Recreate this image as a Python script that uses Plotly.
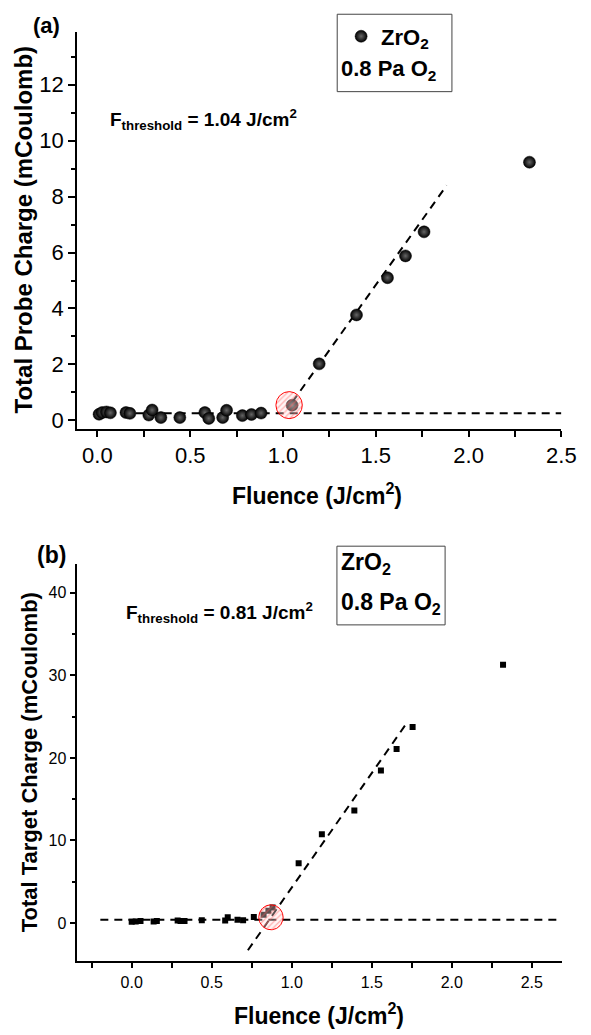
import numpy as np
import plotly.graph_objects as go

# ---------------- data: panel (a) ----------------
fluence_a = [0.009, 0.026, 0.049, 0.070, 0.154, 0.175, 0.277, 0.295, 0.342, 0.444,
             0.579, 0.600, 0.675, 0.696, 0.781, 0.830, 0.882, 1.049, 1.195, 1.396,
             1.563, 1.660, 1.760, 2.328]
probe_charge = [0.22, 0.28, 0.30, 0.27, 0.28, 0.25, 0.19, 0.37, 0.10, 0.10,
                0.28, 0.07, 0.10, 0.36, 0.17, 0.21, 0.26, 0.54, 2.02, 3.77,
                5.10, 5.88, 6.74, 9.23]
fit_a_x = [1.05, 1.882]
fit_a_y = [0.65, 8.40]
base_a_x = [-0.02, 2.5]
base_a_y = [0.25, 0.25]
circle_a_center = (1.033, 0.545)

# ---------------- data: panel (b) ----------------
fluence_b = [0.000, 0.025, 0.055, 0.137, 0.157, 0.287, 0.305, 0.330, 0.438, 0.584,
             0.600, 0.661, 0.696, 0.763, 0.824, 0.854, 0.880, 1.043, 1.188, 1.391,
             1.557, 1.655, 1.755, 2.320]
target_charge = [0.15, 0.20, 0.25, 0.20, 0.25, 0.30, 0.25, 0.25, 0.35, 0.30,
                 0.70, 0.40, 0.35, 0.75, 1.00, 1.50, 1.90, 7.24, 10.74, 13.63,
                 18.46, 21.07, 23.73, 31.29]
fit_b_x = [0.726, 1.708]
fit_b_y = [-3.29, 23.93]
base_b_x = [-0.196, 2.69]
base_b_y = [0.41, 0.41]
circle_b_center = (0.87, 0.70)

# ---------------- layout geometry ----------------
W, H = 591, 1035
FONT = "Liberation Sans, Arial, sans-serif"


def px(x):
    return x / W


def py(y):
    return 1 - y / H


xa_range, ya_range = [-0.11, 2.5], [-0.31, 13.9]
xb_range, yb_range = [-0.34, 2.69], [-4.54, 43.5]
xa_dom_px, ya_dom_px = (79, 576), (31.7, 430.7)
xb_dom_px, yb_dom_px = (79.3, 576.9), (566, 964.3)


def ellipse(center, r_px, xr, yr, xd, yd):
    sx = (xd[1] - xd[0]) / (xr[1] - xr[0])
    sy = (yd[1] - yd[0]) / (yr[1] - yr[0])
    t = np.linspace(0, 2 * np.pi, 80)
    return center[0] + r_px / sx * np.cos(t), center[1] + r_px / sy * np.sin(t)


fig = go.Figure()

dash_line = dict(color="black", width=2, dash="8px,6px")
hatch = dict(shape="/", fgcolor="rgba(255,90,90,0.9)", bgcolor="rgba(255,225,225,0.35)",
             size=4, solidity=0.3)

# panel (a)
fig.add_trace(go.Scatter(x=base_a_x, y=base_a_y, mode="lines", line=dash_line,
                         showlegend=False, xaxis="x", yaxis="y"))
fig.add_trace(go.Scatter(x=fit_a_x, y=fit_a_y, mode="lines", line=dash_line,
                         showlegend=False, xaxis="x", yaxis="y"))
fig.add_trace(go.Scatter(x=fluence_a, y=probe_charge, mode="markers",
                         name="<b>ZrO<sub>2</sub></b>",
                         marker=dict(symbol="circle", size=12, color="#000000",
                                     gradient=dict(type="radial", color="#666666"),
                                     line=dict(width=0.5, color="black")),
                         showlegend=True, xaxis="x", yaxis="y"))
cx, cy = ellipse(circle_a_center, 13.5, xa_range, ya_range, xa_dom_px, ya_dom_px)
fig.add_trace(go.Scatter(x=cx, y=cy, mode="lines", fill="toself",
                         line=dict(color="red", width=1),
                         fillcolor="rgba(0,0,0,0)", fillpattern=hatch,
                         showlegend=False, xaxis="x", yaxis="y"))

# panel (b)
fig.add_trace(go.Scatter(x=base_b_x, y=base_b_y, mode="lines", line=dash_line,
                         showlegend=False, xaxis="x2", yaxis="y2"))
fig.add_trace(go.Scatter(x=fit_b_x, y=fit_b_y, mode="lines", line=dash_line,
                         showlegend=False, xaxis="x2", yaxis="y2"))
fig.add_trace(go.Scatter(x=fluence_b, y=target_charge, mode="markers",
                         marker=dict(symbol="square", size=6, color="black", line=dict(width=0)),
                         showlegend=False, xaxis="x2", yaxis="y2"))
cx, cy = ellipse(circle_b_center, 12.5, xb_range, yb_range, xb_dom_px, yb_dom_px)
fig.add_trace(go.Scatter(x=cx, y=cy, mode="lines", fill="toself",
                         line=dict(color="red", width=1),
                         fillcolor="rgba(0,0,0,0)", fillpattern=hatch,
                         showlegend=False, xaxis="x2", yaxis="y2"))

axis_common = dict(showline=True, linecolor="black", linewidth=1.5, mirror=False,
                   ticks="outside", tickcolor="black", tickwidth=1.5,
                   showgrid=False, zeroline=False, ticklabeloverflow="allow")

fig.update_layout(
    width=W, height=H,
    margin=dict(l=0, r=0, t=0, b=0),
    paper_bgcolor="white", plot_bgcolor="white",
    font=dict(family=FONT, color="black"),
    xaxis=dict(domain=[px(xa_dom_px[0]), px(xa_dom_px[1])], range=xa_range, anchor="y",
               dtick=0.5, tick0=0, tickformat=".1f", ticklen=6,
               tickfont=dict(size=22, family=FONT, color="black"),
               minor=dict(dtick=0.25, tick0=0, ticks="outside", ticklen=6, tickwidth=1.5, tickcolor="black"),
               **axis_common),
    yaxis=dict(domain=[py(ya_dom_px[1]), py(ya_dom_px[0])], range=ya_range, anchor="x",
               dtick=2, tick0=0, ticklen=7,
               tickfont=dict(size=22, family=FONT, color="black"),
               minor=dict(dtick=1, tick0=0, ticks="outside", ticklen=4, tickwidth=1.5, tickcolor="black"),
               **axis_common),
    xaxis2=dict(domain=[px(xb_dom_px[0]), px(xb_dom_px[1])], range=xb_range, anchor="y2",
                dtick=0.5, tick0=0, tickformat=".1f", ticklen=6,
                tickfont=dict(size=16, family=FONT, color="black"),
                minor=dict(dtick=0.25, tick0=0, ticks="outside", ticklen=6, tickwidth=1.5, tickcolor="black"),
                **axis_common),
    yaxis2=dict(domain=[py(yb_dom_px[1]), py(yb_dom_px[0])], range=yb_range, anchor="x2",
                dtick=10, tick0=0, ticklen=6,
                tickfont=dict(size=16, family=FONT, color="black"),
                minor=dict(dtick=5, tick0=0, ticks="outside", ticklen=4, tickwidth=1.5, tickcolor="black"),
                **axis_common),
    legend=dict(x=px(350), y=py(15.5), xanchor="left", yanchor="top",
                bgcolor="rgba(0,0,0,0)", borderwidth=0,
                font=dict(size=22, family=FONT, color="black")),
)

# boxes around legend / labels
fig.add_shape(type="rect", xref="paper", yref="paper",
              x0=px(346), x1=px(463.7), y0=py(92), y1=py(14.3),
              line=dict(color="#444", width=1))
fig.add_shape(type="rect", xref="paper", yref="paper",
              x0=px(345.7), x1=px(456.7), y0=py(627.3), y1=py(548.3),
              line=dict(color="#444", width=1))


def ann(text, x, y, size, xanchor="center", yanchor="middle", angle=0):
    fig.add_annotation(text=text, x=px(x), y=py(y), xref="paper", yref="paper",
                       xanchor=xanchor, yanchor=yanchor, showarrow=False,
                       textangle=angle, font=dict(size=size, family=FONT, color="black"))


# panel labels
ann("<b>(a)</b>", 48, 26, 22)
ann("<b>(b)</b>", 53, 557, 23)

# legend second line (a)
ann("<b>0.8 Pa O<sub>2</sub></b>", 348, 70, 22, xanchor="left")
# box text (b)
ann("<b>ZrO<sub>2</sub></b>", 348, 566, 23, xanchor="left")
ann("<b>0.8 Pa O<sub>2</sub></b>", 348, 606, 23, xanchor="left")

# threshold texts
ann("<b>F<sub>threshold</sub> = 1.04 J/cm<sup>2</sup></b>", 111, 120, 19, xanchor="left")
ann("<b>F<sub>threshold</sub> = 0.81 J/cm<sup>2</sup></b>", 127, 615, 19, xanchor="left")

# axis titles
ann("<b>Fluence (J/cm<sup>2</sup>)</b>", 325, 496, 23)
ann("<b>Fluence (J/cm<sup>2</sup>)</b>", 327, 1018, 23)
ann("<b>Total Probe Charge (mCoulomb)</b>", 24, 230, 24, angle=-90)
ann("<b>Total Target Charge (mCoulomb)</b>", 30, 765, 22, angle=-90)

fig.write_html("out.html", config={"displayModeBar": False})
